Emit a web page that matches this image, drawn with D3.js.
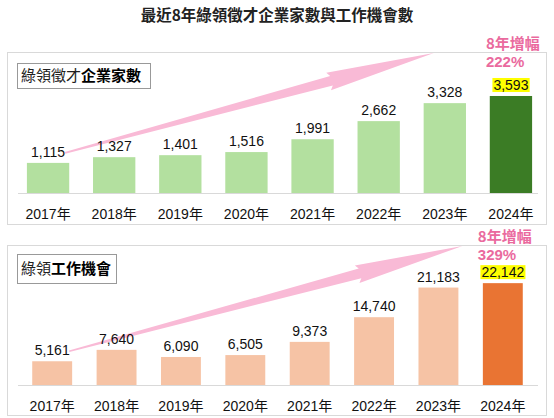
<!DOCTYPE html>
<html>
<head>
<meta charset="utf-8">
<script src="https://cdn.jsdelivr.net/npm/d3@7"></script>
<style>
  body { margin: 0; background: #fff; }
  svg { display: block; font-family: "Liberation Sans", Arial, "Noto Sans CJK TC", sans-serif; }
</style>
</head>
<body>
<svg id="chart" width="554" height="418"></svg>
<script>
const years = ["2017年", "2018年", "2019年", "2020年", "2021年", "2022年", "2023年", "2024年"];
const companies = [1115, 1327, 1401, 1516, 1991, 2662, 3328, 3593];
const jobs = [5161, 7640, 6090, 6505, 9373, 14740, 21183, 22142];
const growthTitle = "8年增幅";
const growthPct = ["222%", "329%"];

const svg = d3.select("#chart");

svg.append("text")
  .attr("x", 277).attr("y", 21)
  .attr("text-anchor", "middle")
  .style("font-family", "'Noto Sans CJK TC', sans-serif")
  .style("font-weight", "bold")
  .style("font-size", "15.5px")
  .attr("fill", "#222")
  .text("最近8年綠領徵才企業家數與工作機會數");

const panels = [
  { values: companies, pct: growthPct[0], top: 52, bottom: 224, base: 193, yMax: 4000, yTop: 85,
    xRange: [15, 544], pad: 0.36, light: "#b3e09f", dark: "#3b7c25",
    boxW: 133, boxH: 25, boxY: 63, boxNormal: "綠領徵才", boxBold: "企業家數",
    tipBand: 6, tipDx: -11 },
  { values: jobs, pct: growthPct[1], top: 245, bottom: 415, base: 385, yMax: 25000, yTop: 270,
    xRange: [20, 535], pad: 0.38, light: "#f6c3a5", dark: "#e97433",
    boxW: 99, boxH: 29, boxY: 254, boxNormal: "綠領", boxBold: "工作機會",
    tipBand: 6, tipDx: 24 }
];

panels.forEach(p => {
  const g = svg.append("g");

  const x = d3.scaleBand().domain(years).range(p.xRange).paddingInner(p.pad).paddingOuter(p.pad / 2);
  const y = d3.scaleLinear().domain([0, p.yMax]).range([p.base, p.yTop]);
  const cx = d => x(d) + x.bandwidth() / 2;

  // panel frame
  g.append("rect")
    .attr("x", 7.5).attr("y", p.top + 0.5)
    .attr("width", 539).attr("height", p.bottom - p.top)
    .attr("fill", "none").attr("stroke", "#d9d9d9");

  // baseline axis
  const axis = g.append("g")
    .attr("transform", `translate(0,${p.base})`)
    .call(d3.axisBottom(x).tickSize(0).tickPadding(16));
  axis.select(".domain").attr("stroke", "#d9d9d9").attr("d", `M18,0.5H538`);
  axis.selectAll("text")
    .style("font-size", "14px")
    .style("font-family", "'Liberation Sans', Arial, 'Noto Sans CJK TC', sans-serif")
    .attr("fill", "#111");

  // bars
  g.selectAll(".bar")
    .data(p.values)
    .enter().append("rect")
    .attr("x", (d, i) => x(years[i]))
    .attr("y", d => y(d))
    .attr("width", x.bandwidth())
    .attr("height", d => p.base - y(d))
    .attr("fill", (d, i) => i === years.length - 1 ? p.dark : p.light);

  // pink growth arrow, tapered from the first label up to the frame top
  const x0 = cx(years[0]) + 17, y0 = y(p.values[0]) - 10;
  const x1 = cx(years[p.tipBand]) + p.tipDx, y1 = p.top + 1;
  const len = Math.hypot(x1 - x0, y1 - y0);
  const ux = (x1 - x0) / len, uy = (y1 - y0) / len;
  const nx = -uy, ny = ux;
  const head = 106;
  const pt = (t, w) => [x0 + ux * t + nx * w, y0 + uy * t + ny * w];
  const arrowPts = [
    pt(0, -0.8), pt(len - head, -5), pt(len - head - 3, -9), pt(len, 0),
    pt(len - head - 3, 9), pt(len - head, 5), pt(0, 0.8)
  ];
  g.append("path")
    .attr("d", d3.line()(arrowPts) + "Z")
    .attr("fill", "#f9bad6");

  const last = p.values.length - 1;

  const labels = g.selectAll(".val")
    .data(p.values)
    .enter().append("text")
    .attr("class", "val")
    .attr("x", (d, i) => cx(years[i]))
    .attr("y", d => y(d) - 6)
    .attr("text-anchor", "middle")
    .style("font-size", "14px")
    .attr("fill", "#111")
    .text(d => d3.format(",")(d));

  // yellow highlight behind the last value
  const lastNode = labels.filter((d, i) => i === last).node();
  const bb = lastNode.getBBox();
  g.insert("rect", () => lastNode)
    .attr("x", bb.x - 1).attr("y", bb.y + 1)
    .attr("width", bb.width + 2).attr("height", bb.height - 2)
    .attr("fill", "#ffff00");

  // growth note
  g.append("text")
    .attr("x", cx(years[last]) - 25).attr("y", p.top - 3)
    .style("font-family", "'Noto Sans CJK TC', sans-serif")
    .style("font-weight", "bold").style("font-size", "15px")
    .attr("fill", "#ea6a9e")
    .text(growthTitle);
  g.append("text")
    .attr("x", cx(years[last]) - 25).attr("y", p.top + 15)
    .style("font-weight", "bold").style("font-size", "15px")
    .attr("fill", "#ea6a9e")
    .text(p.pct);

  // series title box
  g.append("rect")
    .attr("x", 17.5).attr("y", p.boxY + 0.5)
    .attr("width", p.boxW).attr("height", p.boxH)
    .attr("fill", "#fff").attr("stroke", "#999");
  const t = g.append("text")
    .attr("x", 21).attr("y", p.boxY + p.boxH / 2 + 5.5)
    .style("font-family", "'Noto Sans CJK TC', sans-serif")
    .style("font-size", "15px")
    .attr("fill", "#222");
  t.append("tspan").text(p.boxNormal);
  t.append("tspan").style("font-weight", "bold").attr("fill", "#000").text(p.boxBold);
});
</script>
</body>
</html>
